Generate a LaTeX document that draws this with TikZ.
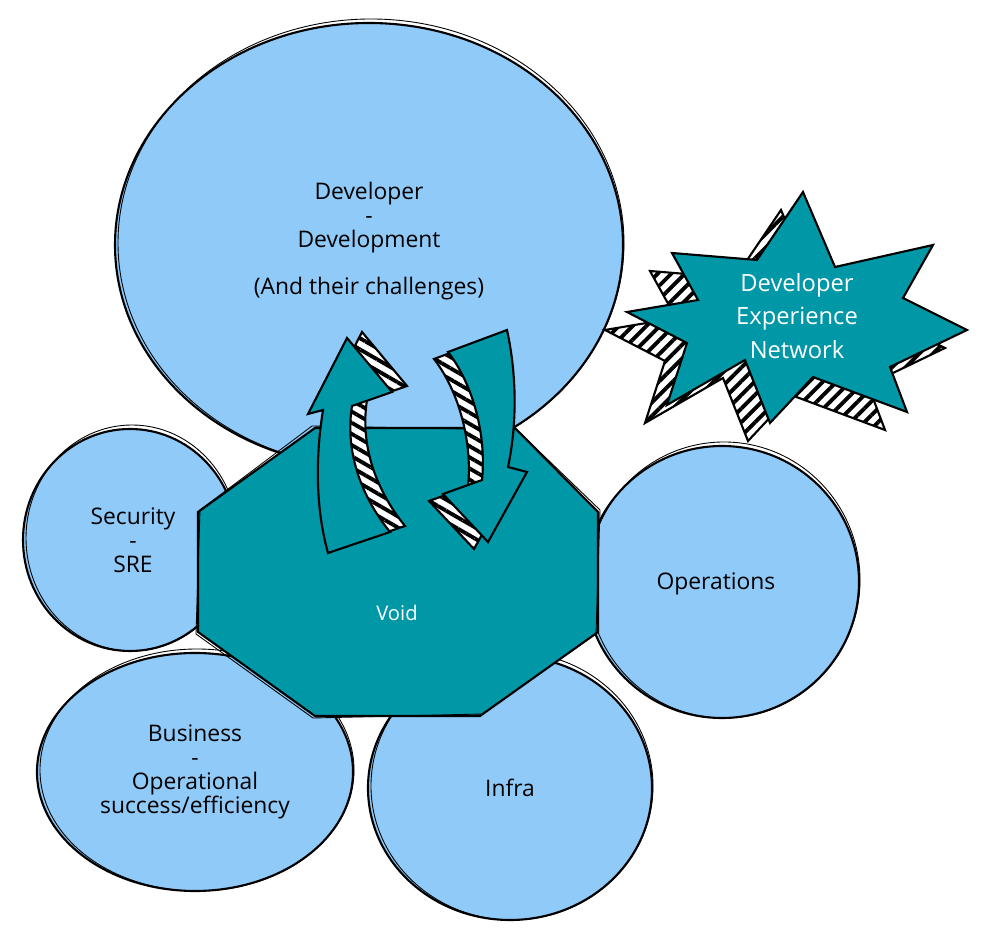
\documentclass[tikz,border=0pt]{standalone}
\usepackage{fontspec}
\setmainfont{Open Sans}
\usepackage{xcolor}
\usetikzlibrary{patterns.meta}
\definecolor{azzurro}{HTML}{90CAF9}
\definecolor{petrolio}{HTML}{0097A7}
\tikzset{
  bolla/.style={fill=azzurro, draw=black, line width=1.2pt},
  traccia/.style={draw=black, line width=0.5pt},
  piena/.style={fill=petrolio, draw=black, line width=1.2pt},
  fascia/.style={preaction={fill=white}, draw=black, line width=1.2pt,
    pattern={Lines[angle=#1, distance=5.5pt, line width=2.2pt]}},
  fascia/.default=45
}

\begin{document}
\begin{tikzpicture}[x=0.02cm,y=-0.02cm,
  every node/.style={font=\fontsize{13}{13.6}\selectfont, align=center}]

  \useasboundingbox (0,0) rectangle (992,945);

  % --- bolle azzurre (centro x, centro y, raggio x, raggio y) --------------
  \foreach \cx/\cy/\rx/\ry in {369/245/254/222, 130/540/107/111,
      195/772/158/119, 510/788/142/132, 722/582/137/136} {
    \draw[bolla] (\cx,\cy) ellipse [x radius=\rx, y radius=\ry];
    \draw[traccia] (\cx+2,\cy-2) ellipse [x radius=\rx-1, y radius=\ry+2];
  }
  \node (dev)  at (369,241) {Developer\\-\\Development\\[13pt](And their challenges)};
  \node (sec)  at (133,540) {Security\\-\\SRE};
  \node (bus)  at (195,772) {Business\\-\\Operational\\success/efficiency};
  \node (infr) at (510,788) {Infra};
  \node (ops)  at (716,584) {Operations};

  % --- ottagono centrale -----------------------------------------------------
  \draw[piena] (315,428) -- (515,428) -- (598,512) -- (598,632) -- (480,716)
    -- (315,716) -- (198,632) -- (198,512) -- cycle;
  \draw[traccia] (312,426) -- (517,430) -- (600,510) -- (596,634) -- (482,714)
    -- (313,718) -- (196,634) -- (200,510) -- cycle;
  \node[text=white, font=\fontsize{11.5}{12}\selectfont] (void) at (397,613) {Void};

  % --- frecce curve: fianco a righe, poi la faccia ---------------------------
  \begin{scope}[shift={(15,-6)}]
    \draw[fascia=-30] (347,338) -- (392,392) -- (352,406)
      .. controls (345,450) and (360,495) .. (390,532) -- (328,553)
      .. controls (316,510) and (315,460) .. (323,410) -- (308,414) -- cycle;
  \end{scope}
  \draw[piena] (347,338) -- (392,392) -- (352,406)
    .. controls (345,450) and (360,495) .. (390,532) -- (328,553)
    .. controls (316,510) and (315,460) .. (323,410) -- (308,414) -- cycle;

  \begin{scope}[shift={(-14,7)}]
    \draw[fascia=-30] (448,352) -- (507,330)
      .. controls (518,380) and (516,430) .. (508,467) -- (527,472)
      -- (488,542) -- (443,494) -- (482,480)
      .. controls (487,430) and (470,380) .. (448,352) -- cycle;
  \end{scope}
  \draw[piena] (448,352) -- (507,330)
    .. controls (518,380) and (516,430) .. (508,467) -- (527,472)
    -- (488,542) -- (443,494) -- (482,480)
    .. controls (487,430) and (470,380) .. (448,352) -- cycle;

  % --- stella in rilievo -----------------------------------------------------
  \begin{scope}[shift={(-22,18)}]
    \draw[fascia=45] (803,192) -- (835,267) -- (933,245) -- (903,298) -- (967,330)
      -- (890,367) -- (907,412) -- (813,377) -- (770,423) -- (745,360)
      -- (667,405) -- (687,343) -- (627,312) -- (698,300) -- (672,253)
      -- (757,260) -- cycle;
  \end{scope}
  \draw[piena] (803,192) -- (835,267) -- (933,245) -- (903,298) -- (967,330)
    -- (890,367) -- (907,412) -- (813,377) -- (770,423) -- (745,360)
    -- (667,405) -- (687,343) -- (627,312) -- (698,300) -- (672,253)
    -- (757,260) -- cycle;
  \node[text=white, font=\fontsize{13.5}{19}\selectfont] (dxn) at (797,316)
    {Developer\\Experience\\Network};

\end{tikzpicture}
\end{document}
